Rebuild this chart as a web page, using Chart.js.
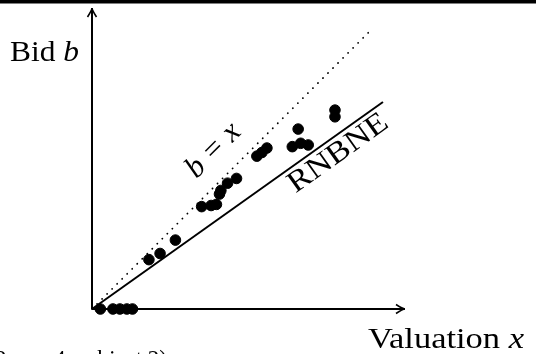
<!DOCTYPE html>
<html>
<head>
<meta charset="utf-8">
<script src="https://cdn.jsdelivr.net/npm/chart.js@4"></script>
<style>
  body { margin: 0; background: #fff; }
  #bidChart { display: block; }
</style>
</head>
<body>
<canvas id="bidChart" width="536" height="354"></canvas>
<script>
// observed bids against valuations
var valuation = [3, 7.5, 10, 12.5, 14.5, 20.4, 24.4, 29.9, 39.3, 42.7, 44.6, 45.7, 46.2, 48.6, 51.8, 59.1, 60.9, 62.7, 71.8, 73.9, 74.8, 77.5, 87.1, 87.1];
var bid = [0, 0, 0, 0, 0, 17.7, 19.9, 24.7, 36.7, 37.1, 37.5, 41.2, 42.5, 45.1, 46.8, 54.8, 56.1, 57.7, 58.2, 64.5, 59.4, 58.8, 71.3, 68.9];

// reference lines
var diagX = [0, 100];
var diagY = [0, 100];
var rnbneX = [0, 104.3];
var rnbneY = [0, 74.2];

var xMax = 112.2;
var yMax = 107.9;

var serif = '"Liberation Serif", "DejaVu Serif", serif';

function pts(xs, ys) {
    return xs.map(function(x, i) { return { x: x, y: ys[i] }; });
}

// parts = [text, italic, gapAfter]
function mixedWidth(ctx, parts, size) {
    var w = 0;
    parts.forEach(function(p) {
        ctx.font = (p[1] ? 'italic ' : '') + size + 'px ' + serif;
        w += ctx.measureText(p[0]).width + (p[2] || 0);
    });
    return w;
}

// draws the pieces stretched sideways so they fill "width"
function drawMixed(ctx, parts, x, y, size, width) {
    var natural = mixedWidth(ctx, parts, size);
    var sx = width ? width / natural : 1;
    ctx.save();
    ctx.translate(x, y);
    ctx.scale(sx, 1);
    var cx = 0;
    parts.forEach(function(p) {
        ctx.font = (p[1] ? 'italic ' : '') + size + 'px ' + serif;
        ctx.fillText(p[0], cx, 0);
        cx += ctx.measureText(p[0]).width + (p[2] || 0);
    });
    ctx.restore();
    return natural * sx;
}

function arrowHead(ctx, x, y, dx, dy) {
    var len = 9, half = 4.5;
    var nx = -dy, ny = dx;
    ctx.beginPath();
    ctx.moveTo(x - dx * len + nx * half, y - dy * len + ny * half);
    ctx.quadraticCurveTo(x - dx * 2, y - dy * 2, x, y);
    ctx.quadraticCurveTo(x - dx * 2, y - dy * 2, x - dx * len - nx * half, y - dy * len - ny * half);
    ctx.stroke();
}

var axesPlugin = {
    id: 'axesPlugin',
    beforeDatasetsDraw: function(chart) {
        var ctx = chart.ctx;
        var xs = chart.scales.x, ys = chart.scales.y;
        var x0 = xs.getPixelForValue(0), y0 = ys.getPixelForValue(0);
        var xEnd = xs.getPixelForValue(xMax), yEnd = ys.getPixelForValue(yMax);
        ctx.save();
        ctx.strokeStyle = '#000';
        ctx.lineWidth = 2;
        ctx.beginPath();
        ctx.moveTo(x0, y0);
        ctx.lineTo(xEnd, y0);
        ctx.moveTo(x0, y0);
        ctx.lineTo(x0, yEnd);
        ctx.stroke();
        ctx.lineWidth = 1.6;
        arrowHead(ctx, xEnd, y0, 1, 0);
        arrowHead(ctx, x0, yEnd, 0, -1);
        ctx.restore();
    },
    afterDraw: function(chart) {
        var ctx = chart.ctx;
        var xs = chart.scales.x, ys = chart.scales.y;
        ctx.save();
        ctx.fillStyle = '#000';

        // black rule across the top edge
        ctx.fillRect(0, 0, chart.width, 3.5);

        ctx.textBaseline = 'alphabetic';
        ctx.textAlign = 'left';
        drawMixed(ctx, [['Bid ', false], ['b', true]], 10, 61, 29, 69);
        drawMixed(ctx, [['Valuation ', false], ['x', true]], 368, 348, 29, 156);

        // caption cut off by the bottom edge
        var cap = [['(Session 2, n = 4, subject 2)', false]];
        drawMixed(ctx, cap, 167 - mixedWidth(ctx, cap, 23), 366, 23);

        // RNBNE label under its line
        var a0x = xs.getPixelForValue(rnbneX[0]), a0y = ys.getPixelForValue(rnbneY[0]);
        var a1x = xs.getPixelForValue(rnbneX[1]), a1y = ys.getPixelForValue(rnbneY[1]);
        var ang = Math.atan2(a1y - a0y, a1x - a0x);
        var t = (329 - a0x) / (a1x - a0x);
        ctx.save();
        ctx.translate(a0x + t * (a1x - a0x), a0y + t * (a1y - a0y));
        ctx.rotate(ang);
        ctx.textBaseline = 'top';
        drawMixed(ctx, [['RNBNE', false]], -58, 1, 30, 116);
        ctx.restore();

        // b = x label above the diagonal
        var d0x = xs.getPixelForValue(diagX[0]), d0y = ys.getPixelForValue(diagY[0]);
        var d1x = xs.getPixelForValue(diagX[1]), d1y = ys.getPixelForValue(diagY[1]);
        var ang2 = Math.atan2(d1y - d0y, d1x - d0x);
        var t2 = (232 - d0x) / (d1x - d0x);
        ctx.save();
        ctx.translate(d0x + t2 * (d1x - d0x), d0y + t2 * (d1y - d0y));
        ctx.rotate(ang2);
        var lbl = [['b', true, 9], ['=', false, 9], ['x', true, 0]];
        drawMixed(ctx, lbl, -mixedWidth(ctx, lbl, 31) / 2, -18, 31);
        ctx.restore();

        ctx.restore();
    }
};

var ctx = document.getElementById('bidChart').getContext('2d');
var bidChart = new Chart(ctx, {
    type: 'scatter',
    data: {
        datasets: [
            {
                label: 'Bids',
                data: pts(valuation, bid),
                backgroundColor: '#000',
                borderColor: '#000',
                pointRadius: 5.3,
                pointHoverRadius: 5.3,
                clip: false,
                order: 0
            },
            {
                type: 'line',
                label: 'b = x',
                data: pts(diagX, diagY),
                borderColor: '#000',
                borderWidth: 1.8,
                borderDash: [0.1, 7],
                borderCapStyle: 'round',
                pointRadius: 0,
                fill: false,
                clip: false,
                order: 2
            },
            {
                type: 'line',
                label: 'RNBNE',
                data: pts(rnbneX, rnbneY),
                borderColor: '#000',
                borderWidth: 2,
                pointRadius: 0,
                fill: false,
                clip: false,
                order: 1
            }
        ]
    },
    options: {
        responsive: false,
        animation: false,
        layout: {
            padding: { left: 92, right: 131, top: 8, bottom: 45 }
        },
        plugins: {
            legend: { display: false },
            tooltip: { enabled: false }
        },
        scales: {
            x: { type: 'linear', min: 0, max: xMax, display: false },
            y: { type: 'linear', min: 0, max: yMax, display: false }
        }
    },
    plugins: [axesPlugin]
});
</script>
</body>
</html>
